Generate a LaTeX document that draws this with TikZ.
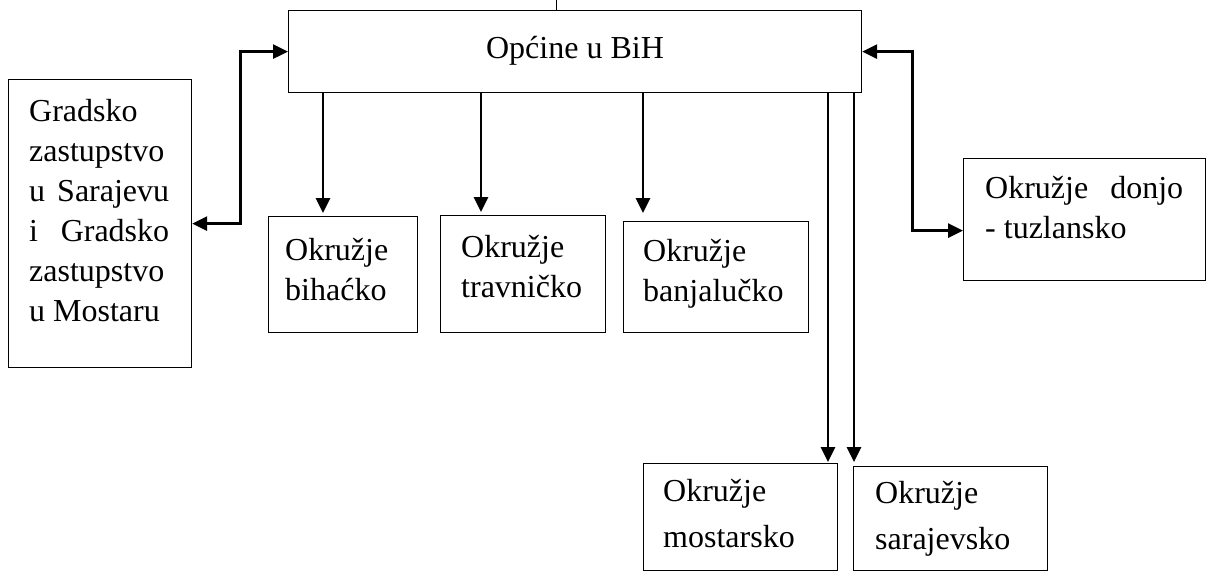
\documentclass[tikz,border=0pt]{standalone}
\usepackage{fontspec}
\setmainfont{Liberation Serif}
\usetikzlibrary{arrows.meta,calc}
\begin{document}
\begin{tikzpicture}[x=1pt,y=-1pt,
  box/.style={draw, line width=1.2pt, inner sep=0pt, anchor=north west},
  txt/.style={anchor=west, inner sep=0pt, align=left, font=\fontsize{32}{40}\selectfont},
  txtb/.style={txt, font=\fontsize{32}{46}\selectfont},
  conn/.style={line width=2.7pt, -{Triangle[length=15pt,width=14pt]}},
  dconn/.style={line width=2.7pt, {Triangle[length=15pt,width=14pt]}-{Triangle[length=15pt,width=14pt]}},
  stubline/.style={line width=0.8pt}
]
\useasboundingbox (0,0) rectangle (1209,572);

% boxes
\node[box, minimum width=573pt, minimum height=82pt] (top) at (288,10) {};
\node[box, minimum width=183pt, minimum height=288pt] (lb) at (8,79) {};
\node[box, minimum width=149pt, minimum height=116pt] (bih) at (268,216) {};
\node[box, minimum width=165pt, minimum height=117pt] (tra) at (440,215) {};
\node[box, minimum width=185pt, minimum height=111pt] (ban) at (623,221) {};
\node[box, minimum width=194pt, minimum height=107pt] (mos) at (643,463) {};
\node[box, minimum width=194pt, minimum height=104pt] (sar) at (853,466) {};
\node[box, minimum width=242pt, minimum height=122pt] (dj) at (963,158) {};

% texts
\node[txt, anchor=center] (ttop) at (575,50.5) {\strut Općine u BiH};
\node[txt] (tlb) at (29,213.5) {\strut Gradsko\\ zastupstvo\\ \makebox[140pt][s]{u Sarajevu}\\ \makebox[140pt][s]{i Gradsko}\\ zastupstvo\\ u Mostaru\strut};
\node[txt] (tbih) at (285,272.5) {\strut Okružje\\ bihaćko\strut};
\node[txt] (ttra) at (461,269.5) {\strut Okružje\\ travničko\strut};
\node[txt] (tban) at (643,273.5) {\strut Okružje\\ banjalučko\strut};
\node[txtb] (tmos) at (663,515) {\strut Okružje\\ mostarsko\strut};
\node[txtb] (tsar) at (875,517) {\strut Okružje\\ sarajevsko\strut};
\node[txt] (tdj) at (985,210.5) {\strut\makebox[198pt][s]{Okružje donjo}\\ - tuzlansko\strut};

% connector end points
\coordinate (stub) at (556,0);
\coordinate (abih) at ($(bih.north west)+(55,-3)$);
\coordinate (atra) at ($(tra.north west)+(41,-3)$);
\coordinate (aban) at ($(ban.north west)+(20,-8)$);
\coordinate (amos) at ($(mos.north west)+(185,-1)$);
\coordinate (asar) at ($(sar.north west)+(1,-4)$);

% connectors
\draw[stubline] (stub) -- (top.north -| stub);
\draw[dconn] (lb.east) -- ++(48,0) |- (top.west);
\draw[dconn] (top.east) -- ++(50,0) |- ([yshift=-11pt]dj.west);
\draw[conn] (top.south -| abih) -- (abih);
\draw[conn] (top.south -| atra) -- (atra);
\draw[conn] (top.south -| aban) -- (aban);
\draw[conn] (top.south -| amos) -- (amos);
\draw[conn] (top.south -| asar) -- (asar);
\end{tikzpicture}
\end{document}
